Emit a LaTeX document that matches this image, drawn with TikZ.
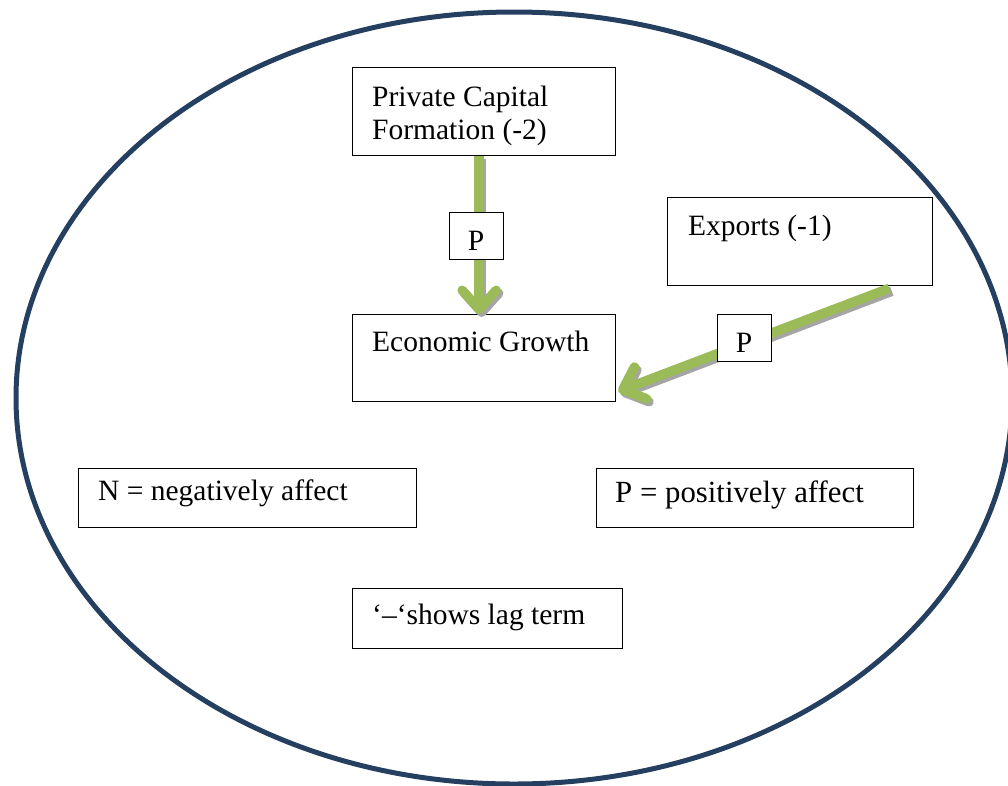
\documentclass[tikz,border=0pt]{standalone}
\usepackage{fontspec}
\setmainfont{Liberation Serif}
\usetikzlibrary{arrows.meta}
\definecolor{rim}{HTML}{243F60}
\definecolor{leaf}{HTML}{9BBB59}
\definecolor{dropgray}{HTML}{A5A5A5}
\begin{document}
\begin{tikzpicture}[x=1pt,y=-1pt,
  box/.style={draw=black,line width=1.3pt,fill=white,inner sep=0pt,anchor=north west},
  txt/.style={anchor=base west,inner sep=0pt,font=\fontsize{29.5}{34}\selectfont},
  flow/.style={line width=9.5pt,-{Straight Barb[length=19pt,width=34pt,round]}},
  flowshadow/.style={flow,draw=dropgray,transform canvas={shift={(2.5,3)}}},
  flowtop/.style={flow,draw=leaf}]
\useasboundingbox (0,0) rectangle (1008,785);
% outer boundary
\draw[rim,line width=5pt] (514,398) ellipse [x radius=498, y radius=386];

% variable boxes
\node[box,minimum width=263pt,minimum height=88pt] (pcf) at (352,67) {};
\node[box,minimum width=265pt,minimum height=88pt] (exp) at (667,197) {};
\node[box,minimum width=263pt,minimum height=87pt] (eg) at (352,314) {};
\node[box,minimum width=338pt,minimum height=59pt] (neg) at (78,468) {};
\node[box,minimum width=317pt,minimum height=59pt] (pos) at (596,468) {};
\node[box,minimum width=270pt,minimum height=60pt] (lag) at (352,588) {};

\node[txt] (pcf1) at (372,106) {Private Capital};
\node[txt] (pcf2) at (372,139) {Formation (-2)};
\node[txt] (expt) at (688,235) {Exports (-1)};
\node[txt] (egt) at (372,351) {Economic Growth};
\node[txt] (negt) at (98,500) {N = negatively affect};
\node[txt,font=\fontsize{30.8}{36}\selectfont] (post) at (615,502) {P = positively affect};
\node[txt] (lagt) at (372,624) {‘–‘shows lag term};

% causal links
\coordinate (a1s) at ([xshift=-5pt]pcf.south);
\coordinate (a1e) at ([xshift=-5pt]eg.north);
\coordinate (a2s) at ([xshift=-44pt,yshift=-2pt]exp.south east);
\coordinate (a2e) at ([xshift=2pt,yshift=11pt]eg.south east);
\draw[flowshadow] (a1s) -- (a1e);
\draw[flowtop] (a1s) -- (a1e);
\draw[flowshadow] (a2s) -- (a2e);
\draw[flowtop] (a2s) -- (a2e);

% link labels
\node[box,minimum width=54pt,minimum height=47pt] (p1) at (449,212) {};
\node[txt,anchor=base] (p1t) at (476,250) {P};
\node[box,minimum width=54pt,minimum height=47pt] (p2) at (717,314) {};
\node[txt,anchor=base] (p2t) at (744,352) {P};
\end{tikzpicture}
\end{document}
